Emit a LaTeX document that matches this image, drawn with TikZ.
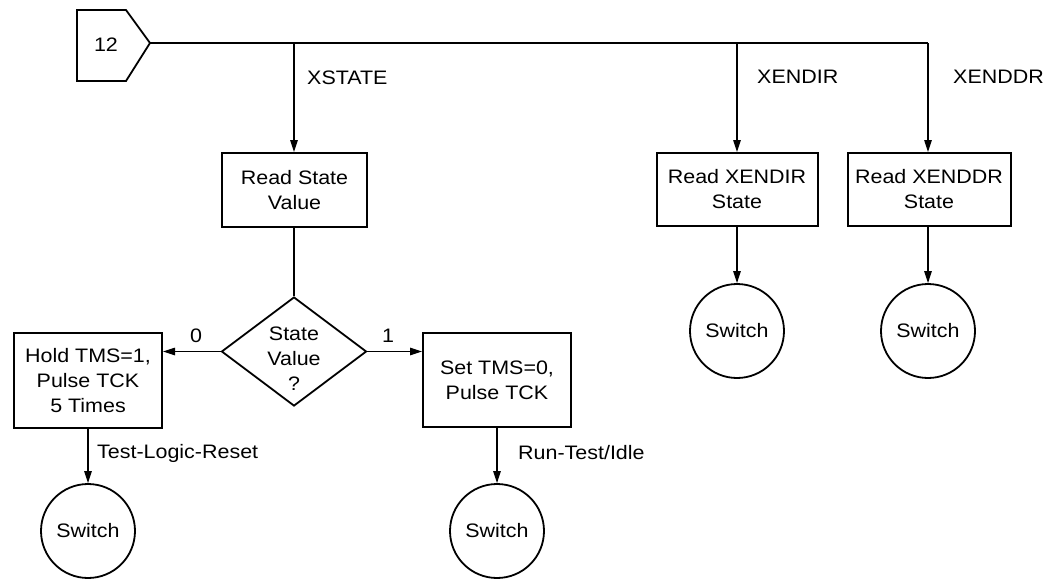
\documentclass[tikz,border=0pt]{standalone}
\usepackage{fontspec}
\setmainfont[FakeStretch=1.1]{Liberation Sans}
\usetikzlibrary{arrows.meta,shapes.geometric}
\begin{document}
\begin{tikzpicture}[x=1pt,y=-1pt,
  every node/.style={font=\fontsize{19.5}{25}\selectfont},
  procbox/.style={draw,line width=2pt,align=center,inner sep=0pt},
  termcirc/.style={draw,circle,line width=1.8pt,minimum size=94pt,inner sep=0pt},
  decis/.style={draw,diamond,line width=1.8pt,minimum width=145pt,minimum height=109pt,inner sep=0pt},
  conn/.style={line width=1.2pt},
  arr/.style={conn,-{Triangle[length=12pt,width=7.5pt]}},
  lbl/.style={inner sep=0pt}
]
\useasboundingbox (0,0) rectangle (1057,579);

% off-page connector 12
\draw[line width=1.8pt,line join=miter] (77,10) -- (126,10) -- (150,43) -- (126,81) -- (77,81) -- cycle;
\coordinate (c12tip) at (150,43);
\node[lbl] (n12) at (106,45) {12};

\coordinate (jX) at (294,43);
\coordinate (jI) at (737,43);
\coordinate (jD) at (928,43);
\draw[conn] (c12tip) -- (jD);

% boxes
\node[procbox,minimum width=145pt,minimum height=74pt] (rsv) at (294.5,190) {Read State\\Value};
\node[procbox,minimum width=161pt,minimum height=73pt] (rxi) at (737,189.5) {Read XENDIR\\State};
\node[procbox,minimum width=163pt,minimum height=73pt] (rxd) at (929,189.5) {Read XENDDR\\State};

\node[decis,label={[align=center,yshift=-7pt,font=\fontsize{19.5}{25}\selectfont]center:State\\Value\\?}] (dec) at (294,351.5) {};

\node[procbox,minimum width=148pt,minimum height=95pt] (hold) at (88,380.5) {Hold TMS=1,\\Pulse TCK\\5 Times};
\node[procbox,minimum width=148pt,minimum height=94pt] (set) at (497,380) {Set TMS=0,\\Pulse TCK};

% switches
\node[termcirc] (sw1) at (88,531) {Switch};
\node[termcirc] (sw2) at (497,531) {Switch};
\node[termcirc] (sw3) at (737,331) {Switch};
\node[termcirc] (sw4) at (928,331) {Switch};

% connectors
\draw[arr] (jX) -- (rsv.north -| jX);
\draw[arr] (jI) -- (rxi.north -| jI);
\draw[arr] (jD) -- (rxd.north -| jD);
\draw[conn] (rsv.south -| dec.north) -- (dec.north);
\draw[arr] (dec.west) -- (dec.west -| hold.east);
\draw[arr] (dec.east) -- (dec.east -| set.west);
\draw[arr] (hold) -- (sw1);
\draw[arr] (set) -- (sw2);
\draw[arr] (rxi.south -| sw3) -- (sw3);
\draw[arr] (rxd.south -| sw4) -- (sw4);

% labels
\node[lbl,anchor=west] (lx) at (307,78) {XSTATE};
\node[lbl,anchor=west] (li) at (757,77) {XENDIR};
\node[lbl,anchor=west] (ld) at (953,77) {XENDDR};
\node[lbl] (l0) at (196,336) {0};
\node[lbl] (l1) at (388,336) {1};
\node[lbl,anchor=west] (ltlr) at (97,453) {Test-Logic-Reset};
\node[lbl,anchor=west] (lrti) at (518,453) {Run-Test/Idle};
\end{tikzpicture}
\end{document}
